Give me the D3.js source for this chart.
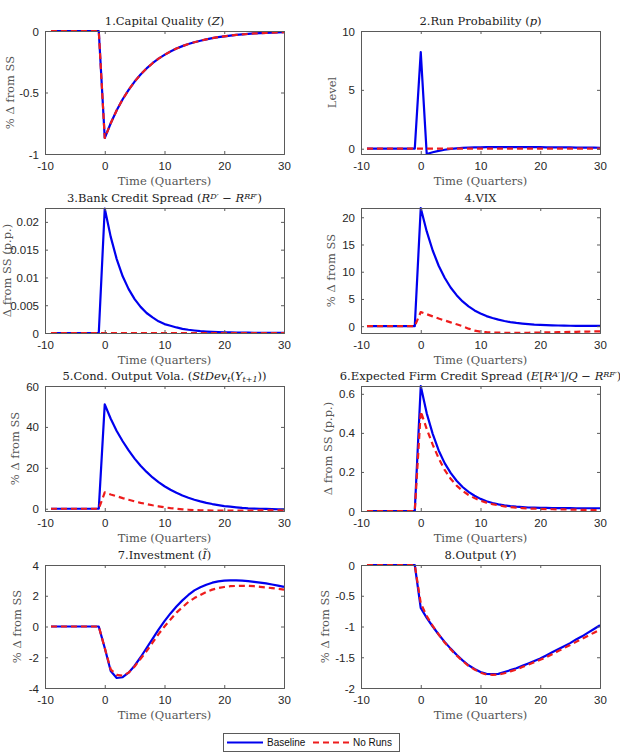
<!DOCTYPE html>
<html>
<head>
<meta charset="utf-8">
<script src="https://cdn.jsdelivr.net/npm/d3@7"></script>
<style>
  body { margin: 0; background: #fff; }
  svg { display: block; }
</style>
</head>
<body>
<div id="chart"></div>
<script>
// quarters -9..30
const time = d3.range(-9, 31);
const seriesNames = ['Baseline', 'No Runs'];
const pre = [0, 0, 0, 0, 0, 0, 0, 0, 0];

const capQualityBase = pre.concat([-0.87, -0.75, -0.645, -0.555, -0.478, -0.411, -0.354, -0.304, -0.262, -0.225, -0.194, -0.167, -0.143, -0.123, -0.106, -0.091, -0.079, -0.068, -0.058, -0.050, -0.043, -0.037, -0.032, -0.028, -0.024, -0.020, -0.018, -0.015, -0.013, -0.011, -0.010]);
const capQualityNoRuns = pre.concat([-0.87, -0.75, -0.645, -0.555, -0.478, -0.411, -0.354, -0.304, -0.262, -0.225, -0.194, -0.167, -0.143, -0.123, -0.106, -0.091, -0.079, -0.068, -0.058, -0.050, -0.043, -0.037, -0.032, -0.028, -0.024, -0.020, -0.018, -0.015, -0.013, -0.011, -0.010]);

const runProbBase = pre.concat([8.2, -0.45, -0.3, -0.18, -0.09, -0.02, 0.03, 0.07, 0.1, 0.11, 0.12, 0.13, 0.13, 0.14, 0.14, 0.14, 0.14, 0.14, 0.13, 0.13, 0.13, 0.12, 0.12, 0.12, 0.11, 0.11, 0.1, 0.1, 0.09, 0.09, 0.08]);
const runProbNoRuns = pre.concat([0, 0, 0, 0, 0, 0, 0, 0, 0, 0, 0, 0, 0, 0, 0, 0, 0, 0, 0, 0, 0, 0, 0, 0, 0, 0, 0, 0, 0, 0, 0]);

const bankSpreadBase = pre.concat([0.0224, 0.0173, 0.0133, 0.0102, 0.0079, 0.0061, 0.0047, 0.0036, 0.0028, 0.0021, 0.0016, 0.0013, 0.001, 0.00075, 0.00058, 0.00045, 0.00034, 0.00026, 0.0002, 0.00016, 0.00012, 0.0001, 0.00008, 0.00006, 0.00005, 0.00004, 0.00003, 0.00003, 0.00002, 0.00002, 0.00002]);
const bankSpreadNoRuns = pre.concat([0, 0, 0, 0, 0, 0, 0, 0, 0, 0, 0, 0, 0, 0, 0, 0, 0, 0, 0, 0, 0, 0, 0, 0, 0, 0, 0, 0, 0, 0, 0]);

const vixBase = pre.concat([21.7, 17.4, 13.9, 11.1, 8.9, 7.1, 5.7, 4.55, 3.65, 2.9, 2.35, 1.85, 1.5, 1.2, 0.95, 0.75, 0.6, 0.48, 0.38, 0.3, 0.25, 0.2, 0.16, 0.13, 0.1, 0.08, 0.07, 0.06, 0.05, 0.05, 0.05]);
const vixNoRuns = pre.concat([2.6, 2.2, 1.8, 1.4, 1.05, 0.7, 0.35, 0.0, -0.45, -0.8, -1.0, -1.1, -1.15, -1.18, -1.2, -1.2, -1.2, -1.2, -1.2, -1.18, -1.16, -1.14, -1.12, -1.1, -1.07, -1.05, -1.03, -1.0, -0.98, -0.96, -0.95]);

const volaBase = pre.concat([51, 44, 38, 33, 28.5, 24.5, 21, 18, 15.3, 13, 11, 9.3, 7.8, 6.5, 5.4, 4.4, 3.6, 2.9, 2.3, 1.8, 1.3, 1.0, 0.7, 0.4, 0.2, 0.1, 0, -0.1, -0.2, -0.25, -0.3]);
const volaNoRuns = pre.concat([8, 7, 6.1, 5.2, 4.4, 3.6, 2.9, 2.3, 1.7, 1.2, 0.7, 0.3, 0, -0.3, -0.5, -0.65, -0.75, -0.8, -0.85, -0.85, -0.85, -0.85, -0.85, -0.85, -0.85, -0.85, -0.83, -0.82, -0.81, -0.8, -0.8]);

const firmSpreadBase = pre.concat([0.64, 0.5, 0.395, 0.31, 0.245, 0.195, 0.155, 0.123, 0.098, 0.078, 0.062, 0.05, 0.041, 0.034, 0.029, 0.025, 0.022, 0.02, 0.018, 0.017, 0.016, 0.016, 0.015, 0.015, 0.015, 0.015, 0.014, 0.014, 0.014, 0.014, 0.014]);
const firmSpreadNoRuns = pre.concat([0.51, 0.42, 0.34, 0.27, 0.21, 0.165, 0.13, 0.103, 0.082, 0.066, 0.053, 0.043, 0.035, 0.029, 0.024, 0.02, 0.017, 0.015, 0.013, 0.012, 0.011, 0.01, 0.009, 0.008, 0.008, 0.007, 0.007, 0.006, 0.006, 0.005, 0.005]);

const investBase = pre.concat([-1.4, -2.9, -3.35, -3.3, -3.0, -2.55, -2.0, -1.4, -0.8, -0.2, 0.35, 0.85, 1.3, 1.7, 2.05, 2.35, 2.55, 2.72, 2.85, 2.93, 2.98, 3.0, 3.0, 2.98, 2.95, 2.9, 2.85, 2.8, 2.73, 2.66, 2.58]);
const investNoRuns = pre.concat([-1.4, -2.8, -3.15, -3.2, -3.0, -2.6, -2.1, -1.6, -1.05, -0.5, 0.0, 0.45, 0.9, 1.25, 1.6, 1.85, 2.05, 2.25, 2.4, 2.5, 2.57, 2.62, 2.64, 2.65, 2.64, 2.62, 2.58, 2.54, 2.5, 2.45, 2.4]);

const outputBase = pre.concat([-0.7, -0.86, -1.0, -1.13, -1.25, -1.36, -1.46, -1.55, -1.63, -1.69, -1.74, -1.77, -1.775, -1.77, -1.74, -1.71, -1.68, -1.64, -1.6, -1.56, -1.52, -1.47, -1.42, -1.37, -1.32, -1.27, -1.21, -1.16, -1.1, -1.04, -0.98]);
const outputNoRuns = pre.concat([-0.62, -0.83, -0.99, -1.13, -1.26, -1.37, -1.47, -1.56, -1.64, -1.7, -1.75, -1.78, -1.785, -1.78, -1.76, -1.73, -1.7, -1.66, -1.62, -1.58, -1.54, -1.5, -1.45, -1.4, -1.35, -1.3, -1.25, -1.2, -1.15, -1.1, -1.05]);

const xTicks = [-10, 0, 10, 20, 30];

// title pieces: [text, style] style: n normal, i italic, isup, isub
const titles = [
  [['1.Capital Quality (', 'n'], ['Z', 'i'], [')', 'n']],
  [['2.Run Probability (', 'n'], ['p', 'i'], [')', 'n']],
  [['3.Bank Credit Spread (', 'n'], ['R', 'i'], ['D′', 'isup'], [' − ', 'n'], ['R', 'i'], ['RF′', 'isup'], [')', 'n']],
  [['4.VIX', 'n']],
  [['5.Cond. Output Vola. (', 'n'], ['StDev', 'i'], ['t', 'isub'], ['(', 'n'], ['Y', 'i'], ['t+1', 'isub'], ['))', 'n']],
  [['6.Expected Firm Credit Spread (', 'n'], ['E', 'i'], ['[', 'n'], ['R', 'i'], ['A′', 'isup'], [']/', 'n'], ['Q', 'i'], [' − ', 'n'], ['R', 'i'], ['RF′', 'isup'], [')', 'n']],
  [['7.Investment (', 'n'], ['Ĩ', 'i'], [')', 'n']],
  [['8.Output (', 'n'], ['Y', 'i'], [')', 'n']]
];
const yLabels = ['% Δ from SS', 'Level', 'Δ from SS (p.p.)', '% Δ from SS', '% Δ from SS', 'Δ from SS (p.p.)', '% Δ from SS', '% Δ from SS'];
const yDomains = [[-1, 0], [-0.45, 10], [0, 0.0225], [-1.25, 21.7], [-1.1, 60], [0, 0.64], [-4, 4], [-2, 0]];
const yTicks = [[-1, -0.5, 0], [0, 5, 10], [0, 0.005, 0.01, 0.015, 0.02], [0, 5, 10, 15, 20], [0, 20, 40, 60], [0, 0.2, 0.4, 0.6], [-4, -2, 0, 2, 4], [-2, -1.5, -1, -0.5, 0]];
const panelData = [
  [capQualityBase, capQualityNoRuns],
  [runProbBase, runProbNoRuns],
  [bankSpreadBase, bankSpreadNoRuns],
  [vixBase, vixNoRuns],
  [volaBase, volaNoRuns],
  [firmSpreadBase, firmSpreadNoRuns],
  [investBase, investNoRuns],
  [outputBase, outputNoRuns]
];

// layout
const W = 620, H = 753;
const colLeft = [45, 361], colWidth = 239;
const rowTop = [31, 208, 386, 565], rowHeight = [123, 125, 125, 123];
const yLabelOffset = [35, 29, 38, 30, 30, 33, 28, 36];
const colors = ['#0000ee', '#ee1c1c'];
const serif = '"DejaVu Serif", "Liberation Serif", serif';
const sans = '"Liberation Sans", Arial, sans-serif';
const fmt = d => String(+d.toFixed(4)); // plain hyphen minus like matlab

const svg = d3.select('#chart').append('svg')
  .attr('width', W).attr('height', H)
  .attr('viewBox', `0 0 ${W} ${H}`);

panelData.forEach((series, i) => {
  const col = i % 2, row = Math.floor(i / 2);
  const left = colLeft[col], top = rowTop[row];
  const w = colWidth, h = rowHeight[row];

  const x = d3.scaleLinear().domain([-10, 30]).range([left, left + w]);
  const y = d3.scaleLinear().domain(yDomains[i]).range([top + h, top]);

  const g = svg.append('g');

  g.append('rect')
    .attr('x', left).attr('y', top).attr('width', w).attr('height', h)
    .attr('fill', '#fff');

  const line = d3.line()
    .x((d, k) => x(time[k]))
    .y(d => y(d));

  series.forEach((vals, s) => {
    g.append('path')
      .datum(vals)
      .attr('d', line)
      .attr('fill', 'none')
      .attr('stroke', colors[s])
      .attr('stroke-width', 2.2)
      .attr('stroke-linejoin', 'round')
      .attr('stroke-dasharray', s === 1 ? '6,4' : null);
  });

  // axes (box with inward ticks on all sides)
  const axColor = '#5a5a5a';
  const bottom = g.append('g').attr('transform', `translate(0,${top + h})`)
    .call(d3.axisBottom(x).tickValues(xTicks).tickSize(-3).tickPadding(6).tickFormat(fmt));
  const topAx = g.append('g').attr('transform', `translate(0,${top})`)
    .call(d3.axisTop(x).tickValues(xTicks).tickSize(-3).tickFormat(''));
  const leftAx = g.append('g').attr('transform', `translate(${left},0)`)
    .call(d3.axisLeft(y).tickValues(yTicks[i]).tickSize(-3).tickPadding(6).tickFormat(fmt));
  const rightAx = g.append('g').attr('transform', `translate(${left + w},0)`)
    .call(d3.axisRight(y).tickValues(yTicks[i]).tickSize(-3).tickFormat(''));

  [bottom, topAx, leftAx, rightAx].forEach(a => {
    a.select('.domain').attr('stroke', axColor).attr('stroke-width', 1);
    a.selectAll('.tick line').attr('stroke', axColor);
    a.selectAll('.tick text').attr('fill', '#262626').attr('font-family', sans).attr('font-size', 11.5);
  });
  bottom.selectAll('.tick text').attr('dy', '0.9em');
  leftAx.selectAll('.tick text').attr('dy', '0.35em');

  // title
  const t = g.append('text')
    .attr('x', left + w / 2).attr('y', top - 6)
    .attr('text-anchor', 'middle')
    .attr('font-family', serif).attr('font-size', 11.5)
    .attr('fill', '#222');
  titles[i].forEach(([txt, st]) => {
    const sp = t.append('tspan').text(txt);
    if (st.indexOf('i') === 0) sp.attr('font-style', 'italic');
    if (st.endsWith('sup')) sp.attr('baseline-shift', '40%').attr('font-size', 8);
    if (st.endsWith('sub')) sp.attr('baseline-shift', '-25%').attr('font-size', 8);
  });

  // x label
  g.append('text')
    .attr('x', left + w / 2).attr('y', top + h + 31)
    .attr('text-anchor', 'middle')
    .attr('font-family', serif).attr('font-size', 11.5)
    .attr('fill', '#555')
    .text('Time (Quarters)');

  // y label
  g.append('text')
    .attr('transform', `translate(${left - yLabelOffset[i]},${top + h / 2}) rotate(-90)`)
    .attr('text-anchor', 'middle')
    .attr('dy', '0.35em')
    .attr('font-family', serif).attr('font-size', 11.5)
    .attr('fill', '#555')
    .text(yLabels[i]);
});

// legend
const lg = svg.append('g');
lg.append('rect')
  .attr('x', 223.5).attr('y', 733.5).attr('width', 176).attr('height', 18)
  .attr('fill', '#fff').attr('stroke', '#5a5a5a');
const legendX = [227, 313];
seriesNames.forEach((name, s) => {
  const lx = legendX[s];
  lg.append('line')
    .attr('x1', lx).attr('x2', lx + 36).attr('y1', 742.5).attr('y2', 742.5)
    .attr('stroke', colors[s]).attr('stroke-width', 2.2)
    .attr('stroke-dasharray', s === 1 ? '6,4' : null);
  lg.append('text')
    .attr('x', lx + 40).attr('y', 742.5).attr('dy', '0.35em')
    .attr('font-family', sans).attr('font-size', 10)
    .attr('fill', '#111')
    .text(name);
});
</script>
</body>
</html>
